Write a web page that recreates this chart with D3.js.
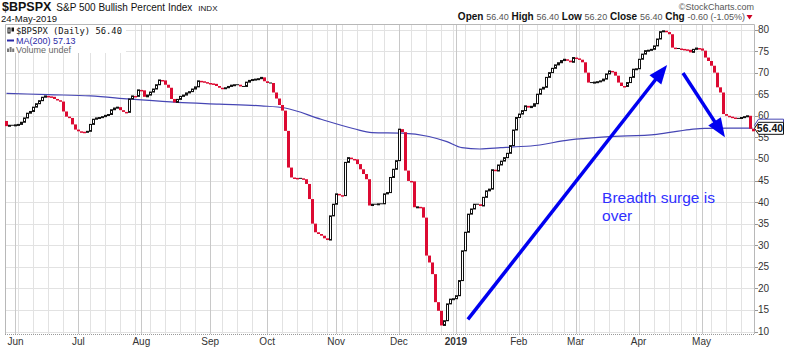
<!DOCTYPE html>
<html lang="en">
<head>
<meta charset="utf-8">
<script src="https://d3js.org/d3.v7.min.js"></script>
<style>
  body { margin: 0; background: #fff; }
  svg { display: block; font-family: "Liberation Sans", Arial, sans-serif; }
</style>
</head>
<body>
<svg id="chart" width="800" height="347"></svg>
<script>
// ------------------------------------------------------------------------
// Daily closes of $BPSPX, one array per month
// ------------------------------------------------------------------------
const may18 = [57.6, 57.8, 57.8];
const jun18 = [57.9, 58.0, 58.5, 59.5, 60.6, 61.0, 62.0, 62.8, 63.5, 64.3, 64.6, 64.5, 64.4, 63.9, 63.6, 63.3, 61.0, 59.8, 59.5, 58.0, 56.8];
const jul18 = [56.4, 56.3, 56.2, 56.4, 58.0, 59.2, 59.5, 59.6, 59.8, 60.1, 60.3, 61.4, 61.8, 62.0, 61.3, 60.9, 60.8, 63.9, 64.6, 64.5, 66.0];
const aug18 = [65.9, 64.4, 64.8, 65.5, 66.2, 67.2, 68.3, 68.2, 67.2, 66.5, 63.9, 63.1, 63.8, 64.5, 64.8, 65.3, 65.6, 66.2, 66.7, 68.1, 68.0, 67.8, 67.6];
const sep18 = [67.5, 67.4, 66.9, 66.5, 66.4, 66.5, 66.8, 67.1, 67.2, 67.2, 66.8, 66.8, 67.8, 68.2, 68.4, 68.5, 68.6, 68.9, 68.0];
const oct18 = [67.6, 67.6, 65.4, 64.0, 62.5, 61.2, 56.5, 48.0, 45.7, 45.6, 45.5, 45.5, 45.3, 44.2, 40.7, 35.0, 33.0, 32.6, 32.2, 31.6, 31.2, 36.8, 39.5];
const nov18 = [41.9, 41.6, 41.5, 49.2, 50.3, 50.0, 49.9, 48.8, 47.6, 46.5, 45.3, 39.2, 39.5, 39.5, 39.6, 39.6, 41.9, 42.2, 45.7, 47.6, 49.6];
const dec18 = [56.9, 56.2, 47.3, 44.9, 44.8, 38.8, 38.9, 38.8, 36.4, 27.6, 26.0, 23.3, 16.8, 14.8, 11.4, 12.5, 16.4, 17.5, 17.6];
const jan19 = [18.3, 21.8, 28.7, 33.0, 37.2, 38.4, 39.5, 39.5, 39.1, 41.1, 42.6, 43.0, 47.5, 47.2, 48.6, 49.5, 50.3, 51.3, 53.1, 56.7, 59.6];
const feb19 = [60.4, 61.2, 62.3, 61.9, 62.2, 62.8, 65.0, 66.2, 66.6, 68.9, 70.0, 71.0, 71.8, 72.3, 72.8, 73.1, 72.8, 72.4, 73.5];
const mar19 = [73.3, 73.0, 72.4, 70.0, 67.7, 67.7, 67.8, 67.9, 68.1, 68.5, 69.7, 70.4, 70.2, 69.3, 67.7, 66.9, 66.8, 67.7, 68.9, 70.8, 70.9];
const apr19 = [73.1, 74.3, 75.1, 75.2, 75.4, 76.2, 77.8, 79.5, 79.7, 79.4, 78.9, 75.8, 75.6, 75.6, 75.5, 75.4, 75.3, 74.7, 75.4, 75.7, 75.6];
const may19 = [75.1, 73.5, 72.7, 71.6, 70.0, 66.6, 65.4, 60.4, 60.0, 59.8, 59.6, 59.4, 59.4, 59.6, 59.8, 60.0, 57.0, 56.4];
const firstOpen = 58.8;

// 200-day moving average, read at a handful of trading days
const maDay   = [0, 14, 28, 41, 57, 71, 85, 93, 105, 116, 122, 132, 141, 147, 152, 158, 165, 169, 175, 188, 200, 217, 228, 233, 249];
const maValue = [65.2, 64.9, 64.6, 63.9, 63.1, 62.7, 62.3, 61.8, 59.2, 57.0, 56.1, 56.0, 55.2, 54.0, 52.6, 52.3, 52.6, 52.8, 53.0, 54.4, 55.1, 55.7, 56.8, 57.1, 57.13];

const yTicks = d3.range(10, 81, 5);
const monthLabels = ["Jun", "Jul", "Aug", "Sep", "Oct", "Nov", "Dec", "2019", "Feb", "Mar", "Apr", "May"];
const holidays = ["2018-07-04", "2018-09-03", "2018-11-22", "2018-12-05", "2018-12-25",
                  "2019-01-01", "2019-01-21", "2019-02-18", "2019-04-19"];

const statLabels = ["Open", "High", "Low", "Close", "Chg"];
const statValues = ["56.40", "56.40", "56.20", "56.40", "-0.60 (-1.05%)"];

// annotation arrows: [trading day, value]
const arrows = [
  { from: [154, 12.8], to: [220.5, 71.8] },
  { from: [225.8, 69.9], to: [239.8, 55.0] }
];
const noteLines = ["Breadth surge is", "over"];

// ------------------------------------------------------------------------
// Build trading days and candles
// ------------------------------------------------------------------------
const parse = d3.timeParse("%Y-%m-%d");
const fmt = d3.timeFormat("%Y-%m-%d");
const days = d3.timeDay.range(parse("2018-05-29"), parse("2019-05-25"))
  .filter(d => d.getDay() > 0 && d.getDay() < 6 && !holidays.includes(fmt(d)));

const closes = [may18, jun18, jul18, aug18, sep18, oct18, nov18, dec18, jan19, feb19, mar19, apr19, may19].flat();
const data = closes.map((c, i) => ({ i: i, date: days[i], open: i ? closes[i - 1] : firstOpen, close: c }));

const plotLeft = 5, plotRight = 754, plotTop = 24, plotBottom = 334;

const x = d3.scaleBand().domain(d3.range(closes.length)).range([plotLeft, plotRight]).padding(0);
const xc = t => x(0) + x.step() * (t + 0.5);
const y = d3.scaleLinear().domain([10, 80]).range([331.5, 29.5]);

const svg = d3.select("#chart");

// gridlines
const weekStarts = data.filter(d => d.i > 0 && +d3.timeMonday.floor(d.date) !== +d3.timeMonday.floor(data[d.i - 1].date));
const monthStarts = data.filter(d => d.i > 0 && d.date.getMonth() !== data[d.i - 1].date.getMonth());

svg.append("g").selectAll("line").data(yTicks).join("line")
  .attr("x1", plotLeft).attr("x2", plotRight)
  .attr("y1", d => Math.round(y(d)) + 0.5).attr("y2", d => Math.round(y(d)) + 0.5)
  .attr("stroke", "#e2e2e2");

svg.append("g").selectAll("line").data(weekStarts).join("line")
  .attr("x1", d => Math.round(xc(d.i)) + 0.5).attr("x2", d => Math.round(xc(d.i)) + 0.5)
  .attr("y1", plotTop).attr("y2", plotBottom)
  .attr("stroke", "#e2e2e2");

svg.append("g").selectAll("line").data(monthStarts).join("line")
  .attr("x1", d => Math.round(xc(d.i)) + 0.5).attr("x2", d => Math.round(xc(d.i)) + 0.5)
  .attr("y1", plotTop).attr("y2", plotBottom)
  .attr("stroke", "#c8c8c8");

// frame
svg.append("path")
  .attr("d", `M${plotLeft + 0.5},${plotBottom} V${plotTop + 0.5} H${plotRight + 0.5} V${plotBottom}`)
  .attr("fill", "none").attr("stroke", "#b8b8b8");
svg.append("line")
  .attr("x1", plotLeft).attr("x2", plotRight + 1).attr("y1", plotBottom + 0.5).attr("y2", plotBottom + 0.5)
  .attr("stroke", "#999").attr("stroke-dasharray", "1,1");

// moving average
svg.append("path")
  .datum(maDay.map((d, k) => [d, maValue[k]]))
  .attr("fill", "none")
  .attr("stroke", "#4646b4")
  .attr("stroke-width", 1.2)
  .attr("d", d3.line().x(d => xc(d[0])).y(d => y(d[1])).curve(d3.curveMonotoneX));

// candles
const candles = svg.append("g");
data.forEach(d => {
  const cx = Math.round(xc(d.i));
  const y0 = y(Math.max(d.open, d.close));
  const y1 = y(Math.min(d.open, d.close));
  if (Math.abs(d.close - d.open) < 0.05) {
    candles.append("rect")
      .attr("x", cx - 1).attr("y", y0 - 0.5).attr("width", 3).attr("height", 1)
      .attr("fill", "#111");
  } else if (d.close > d.open) {
    candles.append("rect")
      .attr("x", cx - 0.5).attr("y", y0).attr("width", 2).attr("height", Math.max(1, y1 - y0))
      .attr("fill", "#fff").attr("stroke", "#111").attr("stroke-width", 1);
  } else {
    candles.append("rect")
      .attr("x", cx - 1).attr("y", y0).attr("width", 3).attr("height", Math.max(1.5, y1 - y0))
      .attr("fill", "#dc0a32");
  }
});

// right axis
const lastClose = closes[closes.length - 1];
const lastMa = maValue[maValue.length - 1];
svg.append("g").selectAll("line").data(yTicks).join("line")
  .attr("x1", plotRight + 1).attr("x2", plotRight + 4)
  .attr("y1", d => Math.round(y(d)) + 0.5).attr("y2", d => Math.round(y(d)) + 0.5)
  .attr("stroke", "#999");
svg.append("g").selectAll("text").data(yTicks).join("text")
  .attr("x", 758).attr("y", d => y(d) + 3.5)
  .attr("font-size", 10).attr("fill", "#333")
  .text(d => d);

// bottom month labels
svg.append("g").selectAll("text").data(monthStarts).join("text")
  .attr("x", d => xc(d.i)).attr("y", 344.5)
  .attr("text-anchor", "middle")
  .attr("font-size", 10)
  .attr("font-weight", (d, k) => monthLabels[k] === "2019" ? "bold" : "normal")
  .attr("fill", "#333")
  .text((d, k) => monthLabels[k]);

// value tags on the right axis
function tag(v, label, color, bold) {
  const ty = y(v) - 3;
  const g = svg.append("g");
  g.append("path")
    .attr("d", `M${plotRight + 0.5},${ty} L${plotRight + 4.5},${ty - 6} H783.5 V${ty + 6} H${plotRight + 4.5} Z`)
    .attr("fill", "#fff").attr("stroke", color).attr("stroke-width", 1);
  if (label) {
    g.append("text").attr("x", 770).attr("y", ty + 4)
      .attr("text-anchor", "middle").attr("font-size", 10.5)
      .attr("font-weight", bold ? "bold" : "normal")
      .attr("fill", color).text(label);
  }
}
tag(lastMa, null, "#4646b4", false);
tag(lastClose, lastClose.toFixed(2), "#111", true);

// legend box inside plot
const lg = svg.append("g");
lg.append("rect").attr("x", plotLeft + 1).attr("y", plotTop + 1).attr("width", 120).attr("height", 28).attr("fill", "#fff");
lg.append("rect").attr("x", 8).attr("y", 28).attr("width", 2).attr("height", 5).attr("fill", "#fff").attr("stroke", "#111");
lg.append("rect").attr("x", 11.5).attr("y", 27.5).attr("width", 2.5).attr("height", 4).attr("fill", "#111");
lg.append("text").attr("x", 16).attr("y", 34)
  .attr("font-family", "'DejaVu Sans Mono', monospace").attr("font-size", 8.8).attr("fill", "#111")
  .text("$BPSPX (Daily) " + lastClose.toFixed(2));
lg.append("line").attr("x1", 7).attr("x2", 14).attr("y1", 40.5).attr("y2", 40.5)
  .attr("stroke", "#2a2aa8").attr("stroke-width", 2);
lg.append("text").attr("x", 16).attr("y", 43.5)
  .attr("font-size", 9).attr("fill", "#2a2aa8")
  .text("MA(200) " + lastMa.toFixed(2));
[0, 2, 4].forEach((o, k) => {
  lg.append("rect").attr("x", 7 + o * 1.3).attr("y", 47 + (k === 1 ? 0 : 1.5)).attr("width", 2)
    .attr("height", k === 1 ? 5 : 3.5).attr("fill", "#777");
});
lg.append("text").attr("x", 16).attr("y", 52.5)
  .attr("font-size", 9).attr("fill", "#666")
  .text("Volume undef");

// header
const hd = svg.append("text").attr("x", 2).attr("y", 10.5).attr("fill", "#111");
hd.append("tspan").attr("font-size", 12.5).attr("font-weight", "bold").text("$BPSPX");
hd.append("tspan").attr("font-size", 10).attr("dx", 5).text("S&P 500 Bullish Percent Index");
hd.append("tspan").attr("font-size", 8).attr("dx", 6).text("INDX");
svg.append("text").attr("x", 1).attr("y", 22).attr("font-size", 9.5).attr("fill", "#111").text("24-May-2019");

svg.append("text").attr("x", 754).attr("y", 9.5).attr("text-anchor", "end")
  .attr("font-size", 9).attr("fill", "#555").text("\u00A9StockCharts.com");

const st = svg.append("text").attr("x", 745).attr("y", 19.5).attr("text-anchor", "end");
statLabels.forEach((l, k) => {
  st.append("tspan").attr("font-size", 10).attr("font-weight", "bold").attr("fill", "#111")
    .text((k ? " " : "") + l + " ");
  st.append("tspan").attr("font-size", 9).attr("fill", "#555").text(statValues[k]);
});
svg.append("path").attr("d", "M746.5,15 L752.5,15 L749.5,19.5 Z").attr("fill", "#cc0022");

// annotations
arrows.forEach(a => {
  const x0 = xc(a.from[0]), y0 = y(a.from[1]);
  const x1 = xc(a.to[0]), y1 = y(a.to[1]);
  const ang = Math.atan2(y1 - y0, x1 - x0);
  const len = 19, half = 7.5;
  const bx = x1 - len * Math.cos(ang), by = y1 - len * Math.sin(ang);
  svg.append("line")
    .attr("x1", x0).attr("y1", y0).attr("x2", bx + 2 * Math.cos(ang)).attr("y2", by + 2 * Math.sin(ang))
    .attr("stroke", "#0000f0").attr("stroke-width", 3.5);
  svg.append("path")
    .attr("d", `M${x1},${y1} L${bx + half * Math.sin(ang)},${by - half * Math.cos(ang)} L${bx - half * Math.sin(ang)},${by + half * Math.cos(ang)} Z`)
    .attr("fill", "#0000f0");
});

svg.append("g").selectAll("text").data(noteLines).join("text")
  .attr("x", xc(198.8)).attr("y", (d, k) => y(39.8) + k * 18.5)
  .attr("font-size", 15.5).attr("fill", "#3030ff")
  .text(d => d);
</script>
</body>
</html>
